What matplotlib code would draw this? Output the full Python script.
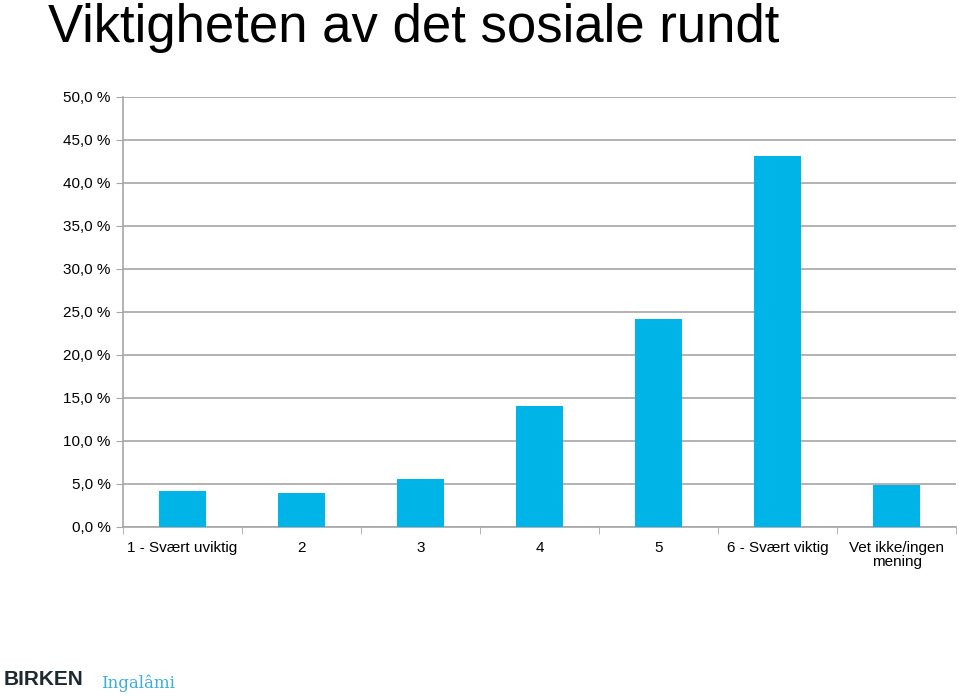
import matplotlib.pyplot as plt
from matplotlib.ticker import FixedLocator

# Survey answers (share of respondents)
categories = ["1 - Svært uviktig", "2", "3", "4", "5", "6 - Svært viktig", "Vet ikke/ingen\nmening"]
shares = [4.2, 3.9, 5.5, 14.1, 24.2, 43.1, 4.9]
y_ticks = [0, 5, 10, 15, 20, 25, 30, 35, 40, 45, 50]

plt.rcParams['font.family'] = ['Liberation Sans', 'DejaVu Sans']

fig = plt.figure(figsize=(9.59, 6.97), dpi=100)
ax = fig.add_axes([0.1283, 0.2443, 0.8687, 0.6167])

x = range(len(categories))
ax.bar(x, shares, width=0.4, color='#00b4e8', zorder=3)

ax.set_xlim(-0.5, len(categories) - 0.5)
ax.set_ylim(0, 50)
ax.set_yticks(y_ticks)
ax.set_yticklabels([f"{v:.1f}".replace('.', ',') + " %" for v in y_ticks], fontsize=11)
ax.yaxis.grid(True, color='#a6a6a6', linewidth=1.2, zorder=0)
ax.tick_params(axis='y', length=5, color='#a6a6a6', pad=4)

ax.set_xticks(list(x))
ax.set_xticklabels(categories, fontsize=11, linespacing=1.0)
ax.tick_params(axis='x', length=0, pad=10)
ax.xaxis.set_minor_locator(FixedLocator([i - 0.5 for i in range(len(categories) + 1)]))
ax.tick_params(axis='x', which='minor', length=5, color='#a6a6a6')

for side in ['top', 'right']:
    ax.spines[side].set_visible(False)
for side in ['left', 'bottom']:
    ax.spines[side].set_color('#a6a6a6')
    ax.spines[side].set_linewidth(1.2)

fig.text(0.05, 0.995, "Viktigheten av det sosiale rundt", fontsize=38, va='top', ha='left')

# logo text at the bottom
fig.text(0.004, 0.012, "BIRKEN", fontsize=15, weight='bold', color='#1e2a30', va='bottom')
fig.text(0.105, 0.007, "Ingalâmi", fontsize=12, family='DejaVu Serif', color='#3aaed8', va='bottom')

plt.savefig("out.png", dpi=100)
